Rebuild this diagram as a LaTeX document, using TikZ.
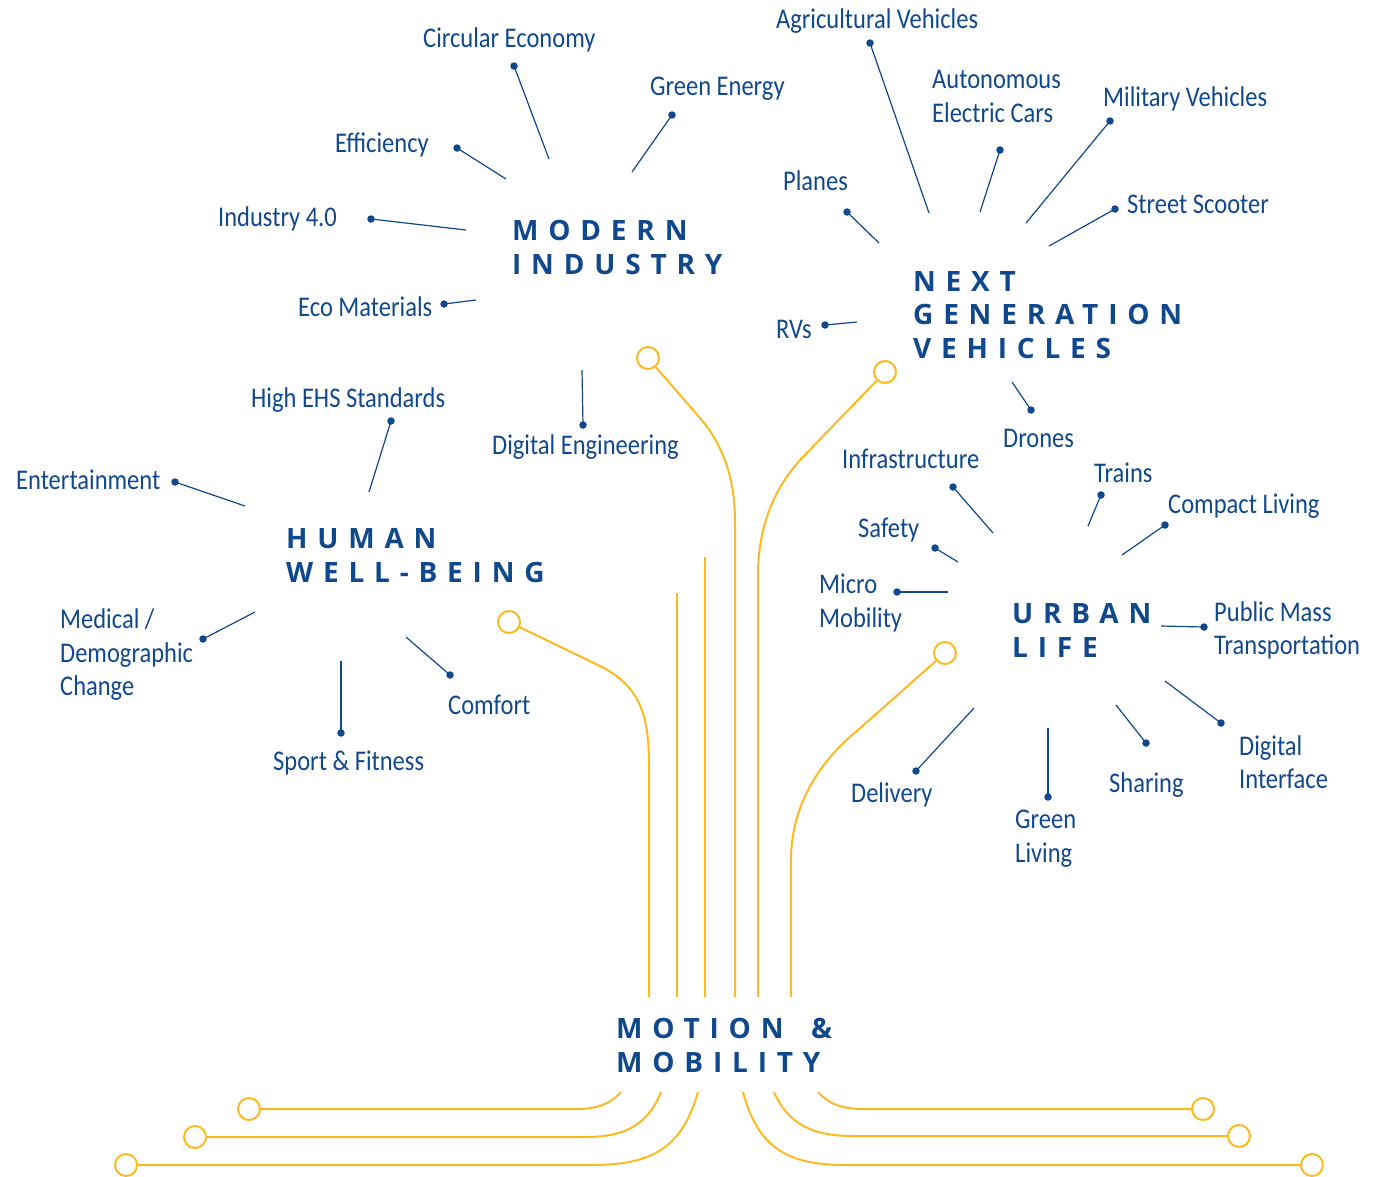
\documentclass[tikz,border=0pt]{standalone}
\usepackage{fontspec}
\setmainfont{Carlito}[FakeStretch=0.86]
\newfontfamily\headfont{Open Sans}[LetterSpace=35]
\definecolor{mblue}{RGB}{16,72,140}
\definecolor{myel}{RGB}{251,186,33}
\begin{document}
\begin{tikzpicture}[x=1pt,y=-1pt,
  lbl/.style={anchor=base west, inner sep=0pt, text=mblue, font=\fontsize{28.5}{34}\selectfont},
  hd/.style={anchor=base west, inner sep=0pt, text=mblue, font=\headfont\bfseries\fontsize{28}{34}\selectfont},
  dot/.style={circle, fill=mblue, inner sep=0pt, minimum size=7.5pt},
  lead/.style={draw=mblue, line width=1.2pt},
  ring/.style={circle, draw=myel, line width=2pt, fill=white, inner sep=0pt, minimum size=22pt},
  ylw/.style={draw=myel, line width=2pt}]
\useasboundingbox (0,0) rectangle (1376,1176);

% ---------------- yellow tree ----------------
\node[ring] (rH) at (509,622) {};
\node[ring] (rM) at (648,358) {};
\node[ring] (rN) at (885,372) {};
\node[ring] (rU) at (945,653) {};
\coordinate (bH) at (649,997);
\coordinate (bM) at (735,997);
\coordinate (bN) at (758,997);
\coordinate (bU) at (791,997);
\coordinate (v1t) at (677,593); \coordinate (v1b) at (677,997);
\coordinate (v2t) at (705,557); \coordinate (v2b) at (705,997);
\draw[ylw] (rH) -- (600,666) .. controls (640,686) and (649,715) .. (649,765) -- (bH);
\draw[ylw] (v1t) -- (v1b);
\draw[ylw] (v2t) -- (v2b);
\draw[ylw] (rM) -- (700,418) .. controls (725,447) and (735,482) .. (735,522) -- (bM);
\draw[ylw] (rN) -- (802,458) .. controls (772,490) and (758,530) .. (758,575) -- (bN);
\draw[ylw] (rU) -- (858,730) .. controls (815,765) and (791,810) .. (791,860) -- (bU);

% bottom roots
\node[ring] (rL1) at (249,1109) {};
\node[ring] (rL2) at (195,1137) {};
\node[ring] (rL3) at (126,1165) {};
\node[ring] (rR1) at (1203,1109) {};
\node[ring] (rR2) at (1239,1136) {};
\node[ring] (rR3) at (1312,1165) {};
\coordinate (tL1) at (621,1092);
\coordinate (tL2) at (661,1092);
\coordinate (tL3) at (698,1092);
\coordinate (tR1) at (818,1092);
\coordinate (tR2) at (774,1092);
\coordinate (tR3) at (743,1092);
\draw[ylw] (tL1) .. controls (610,1104) and (598,1109) .. (575,1109) -- (rL1);
\draw[ylw] (tL2) .. controls (647,1127) and (622,1137) .. (585,1137) -- (rL2);
\draw[ylw] (tL3) .. controls (682,1148) and (652,1165) .. (592,1165) -- (rL3);
\draw[ylw] (tR1) .. controls (829,1104) and (841,1109) .. (865,1109) -- (rR1);
\draw[ylw] (tR2) .. controls (789,1126) and (815,1136) .. (853,1136) -- (rR2);
\draw[ylw] (tR3) .. controls (758,1148) and (788,1165) .. (845,1165) -- (rR3);

% ---------------- headings ----------------
\node[hd] (hMI1) at (512,240) {MODERN};
\node[hd] (hMI2) at (512,274) {INDUSTRY};
\node[hd] (hNG1) at (913,291) {NEXT};
\node[hd] (hNG2) at (913,324) {GENERATION};
\node[hd] (hNG3) at (913,358) {VEHICLES};
\node[hd] (hHW1) at (286,548) {HUMAN};
\node[hd] (hHW2) at (286,582) {WELL-BEING};
\node[hd] (hUL1) at (1012,623) {URBAN};
\node[hd] (hUL2) at (1012,657) {LIFE};
\node[hd] (hMM1) at (616,1038) {MOTION};
\node[hd] (hMMa) at (811,1038) {\&};
\node[hd] (hMM2) at (616,1072) {MOBILITY};

% ---------------- leaders: modern industry ----------------
\coordinate (eCE) at (549,159);  \node[dot] (dCE) at (514,66) {};
\coordinate (eGE) at (632,172);  \node[dot] (dGE) at (672,115) {};
\coordinate (eEf) at (506,179);  \node[dot] (dEf) at (457,148) {};
\coordinate (eI4) at (466,230);  \node[dot] (dI4) at (371,219) {};
\coordinate (eEM) at (476,300);  \node[dot] (dEM) at (444,304) {};
\coordinate (eDE) at (582,370);  \node[dot] (dDE) at (583,425) {};
\foreach \a in {CE,GE,Ef,I4,EM,DE} \draw[lead] (d\a.center) -- (e\a);
\node[lbl] (tCE) at (423,47) {Circular Economy};
\node[lbl] (tGE) at (650,95) {Green Energy};
\node[lbl] (tEf) at (335,152) {Efficiency};
\node[lbl] (tI4) at (218,226) {Industry 4.0};
\node[lbl] (tEM) at (298,316) {Eco Materials};
\node[lbl] (tDE) at (492,454) {Digital Engineering};

% ---------------- leaders: next generation vehicles ----------------
\coordinate (eAV) at (929,213);  \node[dot] (dAV) at (870,43) {};
\coordinate (eAE) at (980,212);  \node[dot] (dAE) at (1000,150) {};
\coordinate (eMV) at (1026,223); \node[dot] (dMV) at (1110,121) {};
\coordinate (eSS) at (1049,246); \node[dot] (dSS) at (1115,209) {};
\coordinate (ePl) at (879,243);  \node[dot] (dPl) at (847,212) {};
\coordinate (eRV) at (857,322);  \node[dot] (dRV) at (825,325) {};
\coordinate (eDr) at (1012,382); \node[dot] (dDr) at (1031,410) {};
\foreach \a in {AV,AE,MV,SS,Pl,RV,Dr} \draw[lead] (d\a.center) -- (e\a);
\node[lbl] (tAV) at (776,28) {Agricultural Vehicles};
\node[lbl] (tAE1) at (932,88) {Autonomous};
\node[lbl] (tAE2) at (932,122) {Electric Cars};
\node[lbl] (tMV) at (1103,106) {Military Vehicles};
\node[lbl] (tSS) at (1127,213) {Street Scooter};
\node[lbl] (tPl) at (783,190) {Planes};
\node[lbl] (tRV) at (776,338) {RVs};
\node[lbl] (tDr) at (1003,447) {Drones};

% ---------------- leaders: urban life ----------------
\coordinate (eIn) at (993,533);  \node[dot] (dIn) at (953,487) {};
\coordinate (eTr) at (1088,526); \node[dot] (dTr) at (1101,495) {};
\coordinate (eCL) at (1122,555); \node[dot] (dCL) at (1165,525) {};
\coordinate (eSa) at (958,562);  \node[dot] (dSa) at (935,548) {};
\coordinate (eMi) at (948,592);  \node[dot] (dMi) at (897,592) {};
\coordinate (ePM) at (1161,626); \node[dot] (dPM) at (1204,627) {};
\coordinate (eDI) at (1165,681); \node[dot] (dDI) at (1221,723) {};
\coordinate (eSh) at (1116,705); \node[dot] (dSh) at (1146,743) {};
\coordinate (eGL) at (1048,728); \node[dot] (dGL) at (1048,797) {};
\coordinate (eDe) at (974,708);  \node[dot] (dDe) at (916,771) {};
\foreach \a in {In,Tr,CL,Sa,Mi,PM,DI,Sh,GL,De} \draw[lead] (d\a.center) -- (e\a);
\node[lbl] (tIn) at (842,468) {Infrastructure};
\node[lbl] (tTr) at (1094,482) {Trains};
\node[lbl] (tCL) at (1168,513) {Compact Living};
\node[lbl] (tSa) at (858,537) {Safety};
\node[lbl] (tMi1) at (819,593) {Micro};
\node[lbl] (tMi2) at (819,627) {Mobility};
\node[lbl] (tPM1) at (1214,621) {Public Mass};
\node[lbl] (tPM2) at (1214,654) {Transportation};
\node[lbl] (tDI1) at (1239,755) {Digital};
\node[lbl] (tDI2) at (1239,788) {Interface};
\node[lbl] (tSh) at (1109,792) {Sharing};
\node[lbl] (tGL1) at (1015,828) {Green};
\node[lbl] (tGL2) at (1015,862) {Living};
\node[lbl] (tDe) at (851,802) {Delivery};

% ---------------- leaders: human well-being ----------------
\coordinate (eHE) at (369,492);  \node[dot] (dHE) at (391,421) {};
\coordinate (eEn) at (245,506);  \node[dot] (dEn) at (175,482) {};
\coordinate (eMe) at (255,612);  \node[dot] (dMe) at (203,639) {};
\coordinate (eSF) at (341,661);  \node[dot] (dSF) at (341,733) {};
\coordinate (eCo) at (406,637);  \node[dot] (dCo) at (450,675) {};
\foreach \a in {HE,En,Me,SF,Co} \draw[lead] (d\a.center) -- (e\a);
\node[lbl] (tHE) at (251,407) {High EHS Standards};
\node[lbl] (tEn) at (16,489) {Entertainment};
\node[lbl] (tMe1) at (60,628) {Medical /};
\node[lbl] (tMe2) at (60,662) {Demographic};
\node[lbl] (tMe3) at (60,695) {Change};
\node[lbl] (tSF) at (273,770) {Sport \& Fitness};
\node[lbl] (tCo) at (448,714) {Comfort};
\end{tikzpicture}
\end{document}
